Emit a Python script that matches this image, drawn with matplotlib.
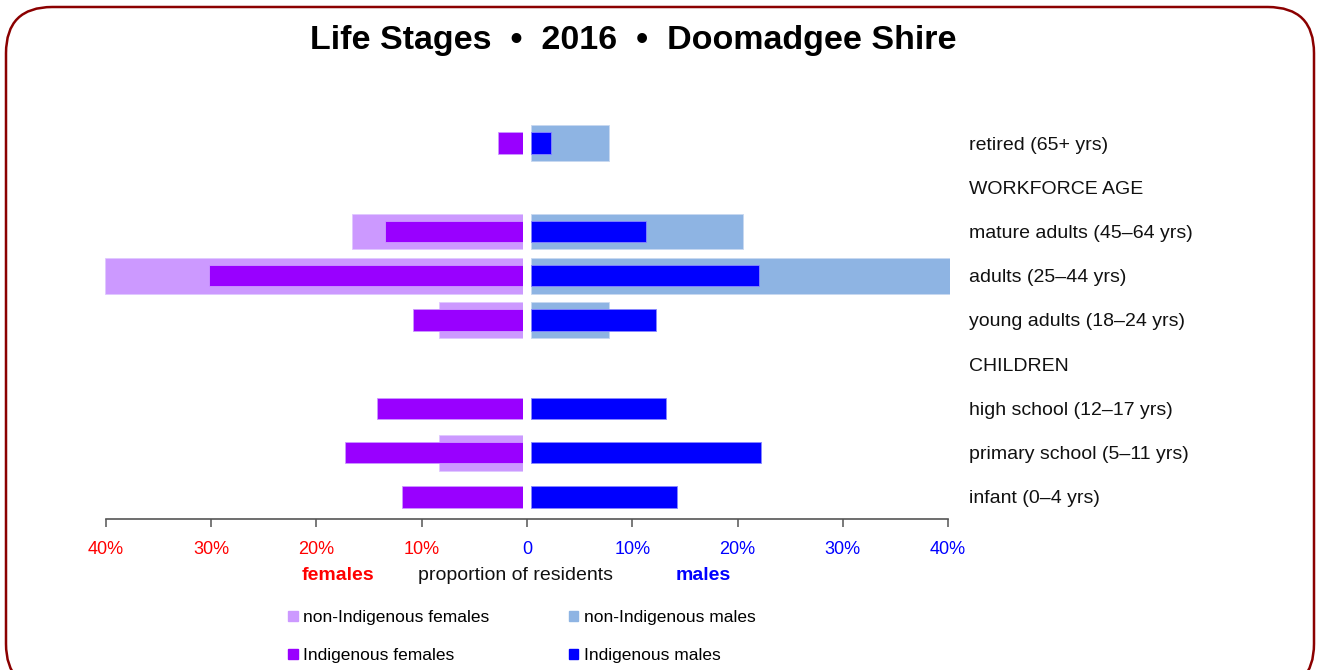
import matplotlib
matplotlib.use("Agg")
import matplotlib.pyplot as plt
from matplotlib.patches import FancyBboxPatch, Patch

W, H = 1320, 670
FONT = ['Liberation Sans', 'DejaVu Sans']

categories = ["retired (65+ yrs)", "WORKFORCE AGE", "mature adults (45\u201364 yrs)",
              "adults (25\u201344 yrs)", "young adults (18\u201324 yrs)", "CHILDREN",
              "high school (12\u201317 yrs)", "primary school (5\u201311 yrs)", "infant (0\u20134 yrs)"]
nonindig_females = [0, 0, 16.4, 40.0, 8.0, 0, 0, 8.0, 0]
indig_females = [2.4, 0, 13.2, 30.0, 10.5, 0, 14.0, 17.0, 11.6]
nonindig_males = [7.4, 0, 20.2, 40.0, 7.4, 0, 0, 0, 0]
indig_males = [1.9, 0, 11.0, 21.8, 11.9, 0, 12.9, 22.0, 13.9]
tick_values = [-40, -30, -20, -10, 0, 10, 20, 30, 40]
tick_labels = ["40%", "30%", "20%", "10%", "0", "10%", "20%", "30%", "40%"]

C_NIF, C_IF = "#cc99ff", "#9900ff"
C_NIM, C_IM = "#8eb4e3", "#0000ff"

plt.rcParams['font.family'] = FONT
fig = plt.figure(figsize=(W / 100, H / 100), dpi=100)

def rect(x0, x1, ytop, ybot):
    return [x0 / W, 1 - ybot / H, (x1 - x0) / W, (ybot - ytop) / H]

# frame
frame = FancyBboxPatch((6 / W, -20 / H), (1308) / W, (670 - 7 + 20) / H,
                       boxstyle="round,pad=0,rounding_size=0.035",
                       transform=fig.transFigure, fill=False,
                       edgecolor="#8b0000", linewidth=1.8, mutation_aspect=W / H)
fig.patches.append(frame)

ytop, ybot = 121, 519
axL = fig.add_axes(rect(105, 523, ytop, ybot))
axR = fig.add_axes(rect(531, 950, ytop, ybot))
axT = fig.add_axes(rect(106, 948, ytop, ybot))

n = len(categories)
ypos = list(range(n))
wide, narrow = 0.81, 0.48

def nz(vals):
    idx = [i for i, v in enumerate(vals) if v > 0]
    return idx, [vals[i] for i in idx]

i, v = nz(nonindig_females)
axL.barh(i, v, height=wide, color=C_NIF, edgecolor="#e0c8ff", linewidth=0.6)
i, v = nz(indig_females)
axL.barh(i, v, height=narrow, color=C_IF, edgecolor="#cc99ff", linewidth=0.6)
i, v = nz(nonindig_males)
axR.barh(i, v, height=wide, color=C_NIM, edgecolor="#c8d8f0", linewidth=0.6)
i, v = nz(indig_males)
axR.barh(i, v, height=narrow, color=C_IM, edgecolor="#8888ff", linewidth=0.6)

axL.set_xlim(40, 0)
axR.set_xlim(0, 40)
for ax in (axL, axR, axT):
    ax.set_ylim(n - 0.5, -0.5)
    ax.patch.set_alpha(0)
    for s in ax.spines.values():
        s.set_visible(False)
    ax.set_xticks([])
    ax.set_yticks([])

axR.set_yticks(ypos)
axR.set_yticklabels(categories, fontsize=14, color="#111111")
axR.yaxis.tick_right()
axR.tick_params(axis="y", length=0, pad=14)

axT.set_xlim(-40, 40)
axT.spines["bottom"].set_visible(True)
axT.spines["bottom"].set_color("#555555")
axT.spines["bottom"].set_linewidth(1.2)
axT.set_xticks(tick_values)
axT.set_xticklabels(tick_labels, fontsize=13)
axT.tick_params(axis="x", length=6, width=1.1, color="#555555", pad=9.5)
for lbl, val in zip(axT.get_xticklabels(), tick_values):
    lbl.set_color("#ff0000" if val < 0 else "#0000ff")

fig.text(633 / W, 1 - 40 / H, "Life Stages  \u2022  2016  \u2022  Doomadgee Shire",
         ha="center", va="center", fontsize=24.5, fontweight="bold")

fig.text(338 / W, 1 - 575 / H, "females", ha="center", va="center", fontsize=14,
         fontweight="bold", color="#ff0000")
fig.text(516 / W, 1 - 575 / H, "proportion of residents", ha="center", va="center",
         fontsize=14, color="#111111")
fig.text(703 / W, 1 - 575 / H, "males", ha="center", va="center", fontsize=14,
         fontweight="bold", color="#0000ff")

handles = [Patch(color=C_NIF, label="non-Indigenous females"),
           Patch(color=C_IF, label="Indigenous females"),
           Patch(color=C_NIM, label="non-Indigenous males"),
           Patch(color=C_IM, label="Indigenous males")]
fig.legend(handles=handles, ncol=2, loc="upper left", bbox_to_anchor=(288 / W, 1 - 610 / H),
           frameon=False, prop={"size": 12.5}, borderpad=0, borderaxespad=0,
           handlelength=0.55, handleheight=0.55, handletextpad=0.3,
           labelspacing=1.34, columnspacing=4.6)

fig.savefig("out.png", dpi=100)
